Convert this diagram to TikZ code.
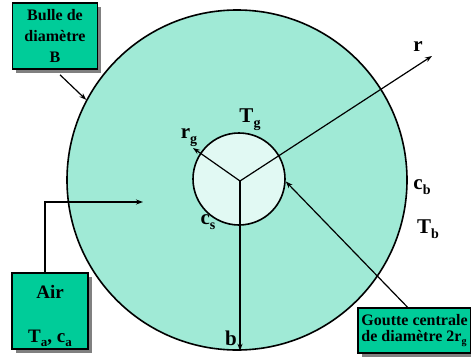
\documentclass[tikz,border=0pt]{standalone}
\usepackage{fontspec}
\setmainfont{Liberation Serif}
\usetikzlibrary{arrows.meta,shadows}
\definecolor{boxfill}{RGB}{0,204,153}
\definecolor{bigfill}{RGB}{160,234,214}
\definecolor{smallfill}{RGB}{225,249,243}
\newcommand\mysub[3]{\raisebox{-#1pt}{\fontsize{#2}{#2}\selectfont #3}}
\begin{document}
\begin{tikzpicture}[x=1pt,y=-1pt,
  boxstyle/.style={draw, line width=1.6pt, fill=boxfill, inner sep=0pt,
    drop shadow={shadow xshift=3.5pt, shadow yshift=-3.5pt, fill=black!50, opacity=1}},
  lbl/.style={font=\fontsize{21}{21}\selectfont\bfseries, inner sep=0pt},
  conn/.style={line width=1.2pt, -{Stealth[length=7pt,width=5pt]}}]
\useasboundingbox (0,0) rectangle (471,356);
% circles
\node[circle, draw, line width=1.6pt, fill=bigfill, minimum size=340pt, inner sep=0pt] (bulle) at (237,180) {};
\node[circle, draw, line width=1.6pt, fill=smallfill, minimum size=92pt, inner sep=0pt] (goutte) at (239,179) {};
% radii
\coordinate (O) at (240,181);
\coordinate (rtip) at (432,56);
\coordinate (rgtip) at (193,148);
\draw[conn] (O) -- (rtip);
\draw[conn] (O) -- (rgtip);
\draw[conn] (O) -- (O |- bulle.south);
% boxes
\node[boxstyle, minimum width=85pt, minimum height=66pt, align=center,
  font=\fontsize{16}{21}\selectfont\bfseries] (bbox) at (55,36) {Bulle de\\diamètre\\B};
\node[boxstyle, minimum width=76pt, minimum height=76pt] (air) at (50,311) {};
\node[font=\fontsize{19}{19}\selectfont\bfseries, anchor=base, inner sep=0pt] (airtxt) at (50,298) {Air};
\node[font=\fontsize{19}{19}\selectfont\bfseries, anchor=base, inner sep=0pt] (airtc) at (50,342) {T\mysub{4}{13}{a}, c\mysub{4}{13}{a}};
\node[boxstyle, minimum width=113pt, minimum height=45pt, align=left,
  font=\fontsize{16}{16.5}\selectfont\bfseries] (gbox) at (414.5,330.5) {Goutte centrale\\de diamètre 2r\mysub{3}{10}{g}};
% connectors from boxes
\draw[conn] ([xshift=5pt,yshift=-5pt]bbox.south) -- (bulle.152);
\coordinate (airtip) at (143,202);
\draw[conn] ([xshift=-5pt]air.north) |- (airtip);
\draw[conn] ([xshift=-7pt]gbox.north) -- (goutte.-3);
% labels
\node[lbl] (lr) at (418,47) {r};
\node[lbl] (lTg) at (250,120) {T\mysub{5}{14}{g}};
\node[lbl] (lrg) at (189,138) {r\mysub{5}{14}{g}};
\node[lbl] (lcs) at (208,222) {c\mysub{5}{14}{s}};
\node[lbl] (lcb) at (422,187) {c\mysub{5}{14}{b}};
\node[lbl] (lTb) at (428,229) {T\mysub{5}{14}{b}};
\node[lbl] (lb) at (231,338) {b};
\end{tikzpicture}
\end{document}
